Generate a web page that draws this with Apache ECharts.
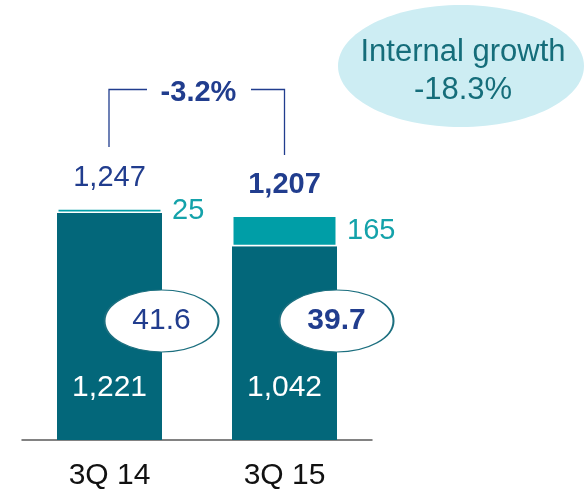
<!DOCTYPE html>
<html>
<head>
<meta charset="utf-8">
<script src="https://cdn.jsdelivr.net/npm/echarts@6/dist/echarts.min.js"></script>
<style>
  html, body { margin: 0; padding: 0; background: #fff; }
  #chart { width: 586px; height: 495px; }
</style>
</head>
<body>
<div id="chart"></div>
<script>
const categories = ['3Q 14', '3Q 15']
const organic = [1221, 1042]
const acquired = [25, 165]
const totals = [1247, 1207]
const ratios = [41.6, 39.7]
const change = '-3.2%'
const internalGrowth = '-18.3%'

const font = "'Liberation Sans', Arial, sans-serif"
const darkTeal = '#03677a'
const lightTeal = '#009ea7'
const navy = '#213d8e'
const ovalLevel = 640 // y level of the ratio ovals

const fmt = v => v.toLocaleString('en-US')

let chart = echarts.init(document.getElementById('chart'))
chart.setOption({
  animation: false,
  grid: { left: 22, right: 214, top: 68, bottom: 55 },
  xAxis: {
    type: 'category',
    data: categories,
    axisLine: { lineStyle: { color: '#5a5a5a', width: 1.5 } },
    axisTick: { show: false },
    axisLabel: { fontFamily: font, fontSize: 30, color: '#111', margin: 21 }
  },
  yAxis: { type: 'value', min: 0, max: 2000, show: false },
  series: [
    {
      name: 'organic',
      type: 'bar',
      stack: 'q',
      barWidth: 105,
      itemStyle: { color: darkTeal },
      label: {
        show: true, position: 'insideBottom', distance: 37,
        fontFamily: font, fontSize: 30, color: '#fff',
        formatter: p => fmt(p.value)
      },
      data: organic
    },
    {
      name: 'acquired',
      type: 'bar',
      stack: 'q',
      barWidth: 105,
      itemStyle: { color: lightTeal, borderColor: '#fff', borderWidth: 1.5 },
      label: {
        show: true, position: 'right', distance: 10,
        fontFamily: font, fontSize: 29, color: '#14a2aa',
        formatter: p => fmt(p.value)
      },
      data: acquired
    },
    {
      name: 'total',
      type: 'bar',
      stack: 'q',
      barWidth: 105,
      itemStyle: { color: 'transparent' },
      label: {
        show: true, position: 'top', distance: 16,
        fontFamily: font, fontSize: 29, color: navy,
        formatter: p => fmt(totals[p.dataIndex])
      },
      data: totals.map((t, i) => ({ value: 0, label: { fontWeight: i === 1 ? 'bold' : 'normal' } }))
    },
    {
      name: 'ratio',
      type: 'scatter',
      z: 5,
      symbol: 'circle',
      symbolSize: [114, 62],
      symbolOffset: [52, 0],
      itemStyle: { color: '#fff', borderColor: '#1c6f7f', borderWidth: 1.5, opacity: 1 },
      label: {
        show: true, position: 'inside',
        fontFamily: font, fontSize: 30, color: navy,
        formatter: p => ratios[p.dataIndex].toFixed(1)
      },
      data: categories.map((c, i) => ({
        value: [c, ovalLevel],
        label: { fontWeight: i === 1 ? 'bold' : 'normal' }
      }))
    }
  ],
  graphic: [
    {
      type: 'polyline',
      shape: { points: [[109, 147], [109, 89.5], [147, 89.5]] },
      style: { stroke: navy, lineWidth: 1.3, fill: null }
    },
    {
      type: 'polyline',
      shape: { points: [[251, 89.5], [284.5, 89.5], [284.5, 155]] },
      style: { stroke: navy, lineWidth: 1.3, fill: null }
    },
    {
      type: 'text',
      x: 198.5, y: 93,
      style: {
        text: change, fill: navy, font: 'bold 29px ' + font,
        align: 'center', verticalAlign: 'middle'
      }
    },
    {
      type: 'ellipse',
      shape: { cx: 461, cy: 66, rx: 123, ry: 61 },
      style: { fill: '#cdedf3' }
    },
    {
      type: 'text',
      x: 463, y: 71,
      style: {
        text: 'Internal growth\n' + internalGrowth, fill: '#156d7a',
        font: '31px ' + font, lineHeight: 38,
        align: 'center', verticalAlign: 'middle'
      }
    }
  ]
})
</script>
</body>
</html>
